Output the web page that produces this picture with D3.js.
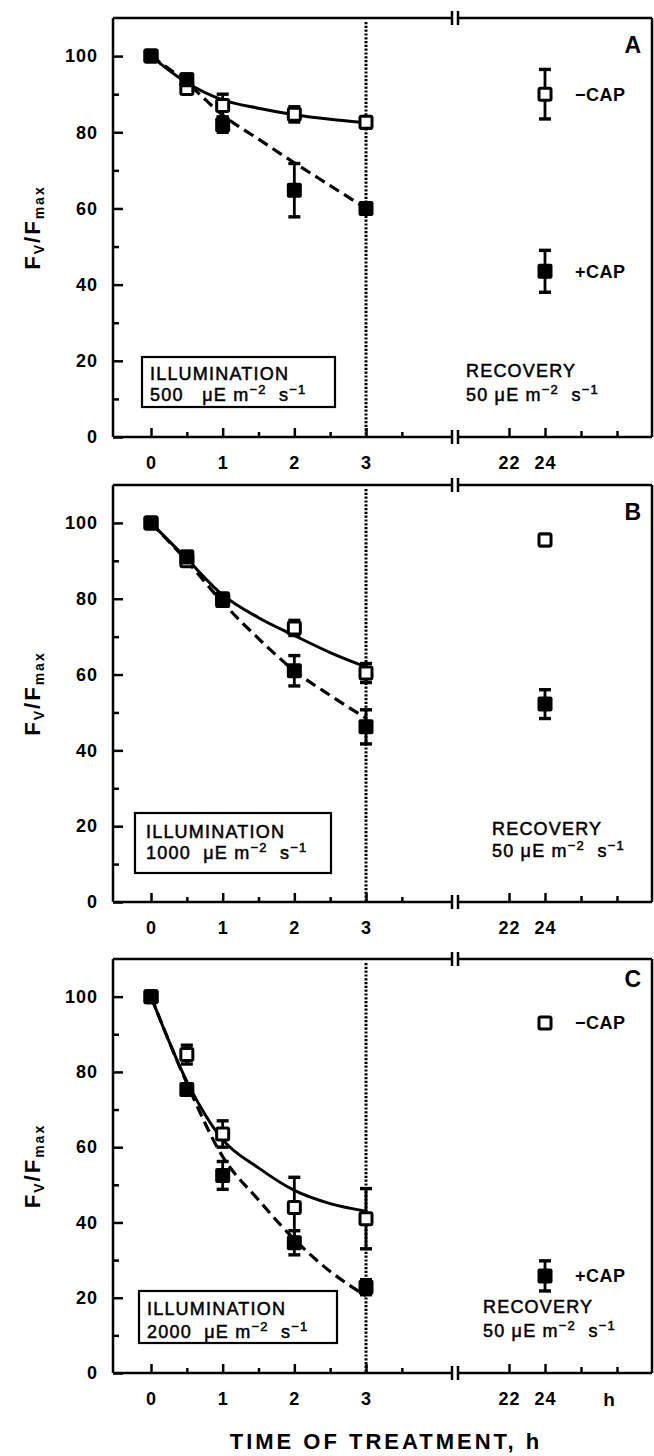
<!DOCTYPE html>
<html>
<head>
<meta charset="utf-8">
<script src="https://cdn.jsdelivr.net/npm/d3@7"></script>
<style>
  body { margin: 0; background: #fff; }
  text { font-family: "Liberation Sans", Arial, sans-serif; fill: #000; white-space: pre; }
</style>
</head>
<body>
<svg id="chart" width="654" height="1456"></svg>
<script>
// sampling times (h) of the illumination phase
const times = [0, 0.5, 1, 2, 3];
const curveTimes = [0, 0.5, 1, 1.5, 2, 2.5, 3];
const recTime = 24;

// panel A : 500 uE
const openA = [100, 91.5, 87, 84.7, 82.6];
const openErrA = [0, 1, 3, 2, 1.5];
const fillA = [100, 93.8, 82, 64.8, 60];
const fillErrA = [0, 1.5, 2, 7, 1.5];
const solidA = [100, 93, 88.5, 86.3, 84.6, 83.4, 82.5];
const dashedA = [100, 93, 84.5, 78.2, 72, 66, 60];
const recOpenA = [90, 6.5];   // value, error
const recFillA = [43.5, 5.5];

// panel B : 1000 uE
const openB = [100, 90, 80, 72.3, 60.4];
const openErrB = [0, 1, 1, 2, 2.5];
const fillB = [100, 91, 79.5, 61, 46.2];
const fillErrB = [0, 1.5, 1.5, 4, 4.5];
const solidB = [100, 90.5, 81, 75, 70.3, 65.8, 62];
const dashedB = [100, 90, 79, 69.5, 61, 54.5, 48.5];
const recOpenB = [95.5, 1.5];
const recFillB = [52.2, 3.8];

// panel C : 2000 uE
const openC = [100, 84.6, 63.5, 44, 41];
const openErrC = [0, 2.5, 3.5, 8, 8];
const fillC = [100, 75.3, 52.5, 34.6, 22.8];
const fillErrC = [0, 1.5, 3.7, 3.2, 2];
const solidC = [100, 77.5, 62, 54.5, 48.5, 45, 43];
const dashedC = [100, 77, 57.5, 46, 35.5, 27, 20.5];
const recOpenC = [93, 1];
const recFillC = [25.8, 4];

const panelLetters = ["A", "B", "C"];
const intensities = ["500  ", "1000 ", "2000 "];
const yMajor = [0, 20, 40, 60, 80, 100];
const yMinor = [10, 30, 50, 70, 90];
const xMajorL = [0, 1, 2, 3];
const xMinorL = [0.5, 1.5, 2.5, 3.5];
const xMajorR = [22, 24];
const xMinorR = [26, 28];

const panels = [
  { open: openA, openErr: openErrA, fill: fillA, fillErr: fillErrA, solid: solidA, dashed: dashedA,
    recOpen: recOpenA, recFill: recFillA, legend: true, hLabel: false },
  { open: openB, openErr: openErrB, fill: fillB, fillErr: fillErrB, solid: solidB, dashed: dashedB,
    recOpen: recOpenB, recFill: recFillB, legend: false, hLabel: false },
  { open: openC, openErr: openErrC, fill: fillC, fillErr: fillErrC, solid: solidC, dashed: dashedC,
    recOpen: recOpenC, recFill: recFillC, legend: true, hLabel: true }
];

// layout of each panel (pixels)
const layout = [
  { top: 18, bottom: 437, box: [142, 335, 80, 30], boxText: [150, 57, 36], rec: [466, 60, 36], letter: 35 },
  { top: 485, bottom: 902, box: [135, 331, 89, 29], boxText: [146, 64, 43], rec: [492, 67, 45], letter: 35 },
  { top: 959, bottom: 1373, box: [139, 337, 82, 30], boxText: [147, 58, 35], rec: [483, 60, 36], letter: 28 }
];

const svg = d3.select("#chart");
const left = 113, right = 652, breakL = 452, breakR = 458;

const xL = d3.scaleLinear().domain([0, 3]).range([151, 366]);
const xR = d3.scaleLinear().domain([22, 24]).range([509, 545]);

function styleAxis(g) {
  g.select(".domain").remove();
  g.attr("font-family", "Liberation Sans, Arial, sans-serif")
    .attr("font-size", 18).attr("font-weight", "bold");
  g.selectAll("line").attr("stroke", "#000").attr("stroke-width", 2.5);
  g.selectAll("text").attr("letter-spacing", 1);
}

// medium-weight text, as in the scanned figure
function medium(sel) {
  sel.attr("font-size", 18).attr("letter-spacing", 1.2)
    .attr("stroke", "#000").attr("stroke-width", 0.5);
}

// superscript unit text: "uE m-2 s-1"
function unitText(sel, prefix) {
  sel.append("tspan").text(prefix + "\u03bcE m");
  sel.append("tspan").attr("dy", -7).attr("font-size", 13).text("\u22122");
  sel.append("tspan").attr("dy", 7).text("  s");
  sel.append("tspan").attr("dy", -7).attr("font-size", 13).text("\u22121");
}

panels.forEach((p, i) => {
  const L = layout[i];
  const y = d3.scaleLinear().domain([0, 110]).range([L.bottom, L.top]);
  const g = svg.append("g");

  // frame with axis break
  const frame = g.append("g").attr("stroke", "#000").attr("stroke-width", 2.5).attr("fill", "none");
  [L.top, L.bottom].forEach(yy => {
    frame.append("line").attr("x1", left).attr("x2", breakL).attr("y1", yy).attr("y2", yy);
    frame.append("line").attr("x1", breakR).attr("x2", right).attr("y1", yy).attr("y2", yy);
    frame.append("line").attr("x1", breakL).attr("x2", breakL).attr("y1", yy - 7).attr("y2", yy + 7);
    frame.append("line").attr("x1", breakR).attr("x2", breakR).attr("y1", yy - 7).attr("y2", yy + 7);
  });
  frame.append("line").attr("x1", left).attr("x2", left).attr("y1", L.top).attr("y2", L.bottom);
  frame.append("line").attr("x1", right).attr("x2", right).attr("y1", L.top).attr("y2", L.bottom);

  // y axis
  g.append("g").attr("transform", `translate(${left},0)`)
    .call(d3.axisLeft(y).tickValues(yMajor).tickSize(-10).tickPadding(15))
    .call(styleAxis);
  g.append("g").attr("transform", `translate(${left},0)`)
    .call(d3.axisLeft(y).tickValues(yMinor).tickSize(-6).tickFormat(""))
    .call(styleAxis);

  // x axes (two segments)
  g.append("g").attr("transform", `translate(0,${L.bottom})`)
    .call(d3.axisBottom(xL).tickValues(xMajorL).tickSize(-9).tickPadding(19).tickFormat(d3.format("d")))
    .call(styleAxis);
  g.append("g").attr("transform", `translate(0,${L.bottom})`)
    .call(d3.axisBottom(xL).tickValues(xMinorL).tickSize(-5).tickFormat(""))
    .call(styleAxis);
  g.append("g").attr("transform", `translate(0,${L.bottom})`)
    .call(d3.axisBottom(xR).tickValues(xMajorR).tickSize(-9).tickPadding(19).tickFormat(d3.format("d")))
    .call(styleAxis);
  g.append("g").attr("transform", `translate(0,${L.bottom})`)
    .call(d3.axisBottom(xR).tickValues(xMinorR).tickSize(-6).tickFormat(""))
    .call(styleAxis);
  if (p.hLabel) {
    g.append("text").attr("x", xR(28) - 8).attr("y", L.bottom + 33)
      .attr("text-anchor", "middle").attr("font-size", 19).attr("font-weight", "bold").text("h");
  }

  // dotted end-of-illumination line
  g.append("line").attr("x1", xL(3)).attr("x2", xL(3)).attr("y1", L.top + 4).attr("y2", L.bottom)
    .attr("stroke", "#000").attr("stroke-width", 3)
    .attr("stroke-dasharray", "2.2 1.6");

  // fitted curves
  const line = d3.line().x((d, k) => xL(curveTimes[k])).y(d => y(d)).curve(d3.curveMonotoneX);
  g.append("path").attr("d", line(p.solid)).attr("fill", "none")
    .attr("stroke", "#000").attr("stroke-width", 3);
  g.append("path").attr("d", line(p.dashed)).attr("fill", "none")
    .attr("stroke", "#000").attr("stroke-width", 3.2).attr("stroke-dasharray", "11 6");

  // points
  const pts = [];
  times.forEach((t, k) => pts.push({ x: xL(t), v: p.open[k], e: p.openErr[k], filled: false }));
  pts.push({ x: xR(recTime), v: p.recOpen[0], e: p.recOpen[1], filled: false });
  times.forEach((t, k) => pts.push({ x: xL(t), v: p.fill[k], e: p.fillErr[k], filled: true }));
  pts.push({ x: xR(recTime), v: p.recFill[0], e: p.recFill[1], filled: true });

  const eb = g.append("g").attr("stroke", "#000");
  pts.filter(d => d.e > 0).forEach(d => {
    eb.append("line").attr("x1", d.x).attr("x2", d.x).attr("y1", y(d.v + d.e)).attr("y2", y(d.v - d.e))
      .attr("stroke-width", 2.8);
    [d.v + d.e, d.v - d.e].forEach(c => {
      eb.append("line").attr("x1", d.x - 6).attr("x2", d.x + 6).attr("y1", y(c)).attr("y2", y(c))
        .attr("stroke-width", 3.4);
    });
  });

  g.selectAll("rect.open").data(pts.filter(d => !d.filled)).join("rect")
    .attr("class", "open")
    .attr("x", d => d.x - 6).attr("y", d => y(d.v) - 6).attr("width", 12).attr("height", 12)
    .attr("rx", 1.5).attr("fill", "#fff").attr("stroke", "#000").attr("stroke-width", 3);
  g.selectAll("rect.fill").data(pts.filter(d => d.filled)).join("rect")
    .attr("class", "fill")
    .attr("x", d => d.x - 7.5).attr("y", d => y(d.v) - 7.5).attr("width", 15).attr("height", 15)
    .attr("rx", 2).attr("fill", "#000");

  // legend labels beside recovery points
  if (p.legend) {
    g.append("text").attr("x", 575).attr("y", y(p.recOpen[0])).attr("dy", "0.36em")
      .attr("font-size", 18).attr("font-weight", "bold").attr("letter-spacing", 0.5).text("\u2212CAP");
    g.append("text").attr("x", 575).attr("y", y(p.recFill[0])).attr("dy", "0.36em")
      .attr("font-size", 18).attr("font-weight", "bold").attr("letter-spacing", 0.5).text("+CAP");
  }

  // panel letter
  g.append("text").attr("x", 641).attr("y", L.top + L.letter).attr("text-anchor", "end")
    .attr("font-size", 23).attr("font-weight", "bold").text(panelLetters[i]);

  // illumination box
  g.append("rect").attr("x", L.box[0]).attr("y", L.bottom - L.box[2])
    .attr("width", L.box[1] - L.box[0]).attr("height", L.box[2] - L.box[3])
    .attr("fill", "#fff").attr("stroke", "#000").attr("stroke-width", 2.2);
  g.append("text").attr("x", L.boxText[0]).attr("y", L.bottom - L.boxText[1])
    .call(medium).text("ILLUMINATION");
  g.append("text").attr("x", L.boxText[0]).attr("y", L.bottom - L.boxText[2])
    .call(medium).call(unitText, intensities[i] + " ");

  // recovery label
  g.append("text").attr("x", L.rec[0]).attr("y", L.bottom - L.rec[1])
    .call(medium).text("RECOVERY");
  g.append("text").attr("x", L.rec[0]).attr("y", L.bottom - L.rec[2])
    .call(medium).call(unitText, "50 ");

  // y axis title
  const yt = g.append("text")
    .attr("transform", `translate(40,${(L.top + L.bottom) / 2}) rotate(-90)`)
    .attr("text-anchor", "middle").attr("font-weight", "bold").attr("font-size", 22)
    .attr("letter-spacing", 2);
  yt.append("tspan").text("F");
  yt.append("tspan").attr("font-size", 14).attr("dy", 4).text("V");
  yt.append("tspan").attr("dy", -4).text("/F");
  yt.append("tspan").attr("font-size", 14).attr("dy", 4).text("max");
});

// x axis title
svg.append("text").attr("x", 386).attr("y", 1449).attr("text-anchor", "middle")
  .attr("font-size", 22).attr("font-weight", "bold").attr("letter-spacing", 3)
  .text("TIME OF TREATMENT, h");
</script>
</body>
</html>
